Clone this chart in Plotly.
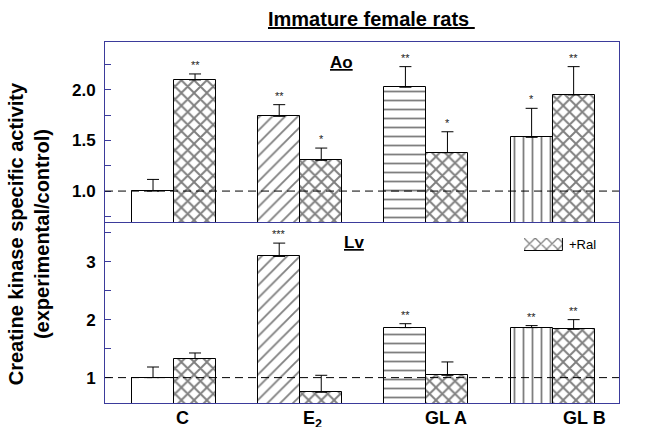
import plotly.graph_objects as go

groups = ["C", "E<sub>2</sub>", "GL A", "GL B"]
ctrl_patterns = ["", "/", "-", "|"]

ao_ctrl = [1.00, 1.737, 2.024, 1.530]
ao_ctrl_err = [0.115, 0.115, 0.203, 0.286]
ao_ral = [2.096, 1.303, 1.378, 1.948]
ao_ral_err = [0.059, 0.121, 0.207, 0.279]
ao_ctrl_sig = ["", "**", "**", "*"]
ao_ral_sig = ["**", "*", "*", "**"]

lv_ctrl = [1.00, 3.09, 1.862, 1.862]
lv_ctrl_err = [0.183, 0.23, 0.068, 0.035]
lv_ral = [1.328, 0.747, 1.04, 1.833]
lv_ral_err = [0.097, 0.293, 0.23, 0.167]
lv_ctrl_sig = ["", "***", "**", "**"]
lv_ral_sig = ["", "", "", "**"]

top_ticks = [1.0, 1.5, 2.0]
bot_ticks = [1, 2, 3]

FONT = "Liberation Sans"
FRAME = "#3b3b9b"
W = 0.333
off = W / 2
xc = list(range(len(groups)))
label_pos = [0.07, 1.10, 2.155, 3.25]

fig = go.Figure()


def add_panel(ctrl, ctrl_err, ral, ral_err, xa, ya):
    fig.add_trace(go.Bar(
        x=[i - off for i in xc], y=ctrl, width=W, xaxis=xa, yaxis=ya,
        marker=dict(color="white", line=dict(color="black", width=1),
                    pattern=dict(shape=ctrl_patterns, fgcolor="black", bgcolor="white",
                                 size=9, solidity=0.2)),
        error_y=dict(type="data", symmetric=False, array=ctrl_err, arrayminus=[0] * 4,
                     color="black", thickness=1, width=6),
        showlegend=False))
    fig.add_trace(go.Bar(
        x=[i + off for i in xc], y=ral, width=W, xaxis=xa, yaxis=ya,
        marker=dict(color="white", line=dict(color="black", width=1),
                    pattern=dict(shape="x", fgcolor="black", bgcolor="white",
                                 size=9, solidity=0.38)),
        error_y=dict(type="data", symmetric=False, array=ral_err, arrayminus=[0] * 4,
                     color="black", thickness=1, width=6),
        showlegend=False))


add_panel(ao_ctrl, ao_ctrl_err, ao_ral, ao_ral_err, "x2", "y2")
add_panel(lv_ctrl, lv_ctrl_err, lv_ral, lv_ral_err, "x", "y")

# legend swatch on a tiny axis
fig.add_trace(go.Bar(
    x=[0], y=[1], width=[1], xaxis="x3", yaxis="y3",
    marker=dict(color="white", line=dict(color="black", width=1),
                pattern=dict(shape="x", fgcolor="black", bgcolor="white", size=8, solidity=0.3)),
    showlegend=False, hoverinfo="skip"))

annotations = []


def add_sig(vals, errs, sig, dx, xref, yref):
    for i, s in enumerate(sig):
        if s:
            annotations.append(dict(x=i + dx, y=vals[i] + errs[i], xref=xref, yref=yref,
                                    text=s, showarrow=False, yanchor="bottom", yshift=1,
                                    font=dict(family=FONT, size=11, color="#222222")))


add_sig(ao_ctrl, ao_ctrl_err, ao_ctrl_sig, -off, "x2", "y2")
add_sig(ao_ral, ao_ral_err, ao_ral_sig, off, "x2", "y2")
add_sig(lv_ctrl, lv_ctrl_err, lv_ctrl_sig, -off, "x", "y")
add_sig(lv_ral, lv_ral_err, lv_ral_sig, off, "x", "y")

for i, g in enumerate(groups):
    annotations.append(dict(x=label_pos[i], y=0, xref="x", yref="paper", text="<b>%s</b>" % g,
                            showarrow=False, yanchor="top", yshift=-3,
                            font=dict(family=FONT, size=18, color="black")))

annotations += [
    dict(x=0.519, y=1, xref="paper", yref="paper", yshift=10, yanchor="bottom",
         text="<b><u>Immature female rats </u></b>", showarrow=False,
         font=dict(family=FONT, size=20, color="black")),
    dict(x=0.46, y=0.975, xref="paper", yref="paper", yanchor="top",
         text="<b><u>Ao</u></b>", showarrow=False, font=dict(family=FONT, size=17, color="black")),
    dict(x=0.485, y=0.476, xref="paper", yref="paper", yanchor="top",
         text="<b><u>Lv</u></b>", showarrow=False, font=dict(family=FONT, size=17, color="black")),
    dict(x=0.898, y=0.4377, xref="paper", yref="paper", xanchor="left", yanchor="middle",
         text="+Ral", showarrow=False, font=dict(family=FONT, size=13, color="black")),
    dict(x=-0.148, y=0.47, xref="paper", yref="paper", textangle=-90,
         xanchor="center", yanchor="middle",
         text="<b>Creatine kinase specific activity<br>(experimental/control)</b>",
         showarrow=False, font=dict(family=FONT, size=20, color="black")),
]

shapes = [
    dict(type="line", xref="x2 domain", yref="y2", x0=0, x1=1, y0=1, y1=1,
         line=dict(color="black", width=1, dash="8px,5px")),
    dict(type="line", xref="x domain", yref="y", x0=0, x1=1, y0=1, y1=1,
         line=dict(color="black", width=1, dash="8px,5px")),
]

split = 181 / 361
axis_common = dict(showline=True, linecolor=FRAME, linewidth=1,
                   showgrid=False, zeroline=False)

fig.update_layout(
    width=659, height=427,
    margin=dict(l=105, r=40, t=42, b=24),
    paper_bgcolor="white", plot_bgcolor="white",
    barmode="overlay", bargap=0,
    showlegend=False,
    xaxis=dict(range=[-0.547, 3.526], domain=[0, 1], anchor="y", showticklabels=False,
               ticks="", mirror=False, **axis_common),
    xaxis2=dict(range=[-0.547, 3.526], domain=[0, 1], anchor="y2", showticklabels=False,
                ticks="", mirror=True, **axis_common),
    yaxis=dict(range=[0.562, 3.684], domain=[0, split], anchor="x", tickvals=bot_ticks,
               ticktext=[str(v) for v in bot_ticks], ticks="inside", ticklen=6,
               tickcolor=FRAME, ticklabelstandoff=5, mirror=True,
               minor=dict(ticks="inside", ticklen=6, tickcolor=FRAME, dtick=0.5, tick0=0),
               tickfont=dict(family=FONT, size=17, color="black", weight="bold"),
               **axis_common),
    yaxis2=dict(range=[0.695, 2.47], domain=[split, 1], anchor="x2", tickvals=top_ticks,
                ticktext=["%.1f" % v for v in top_ticks], ticks="inside", ticklen=6,
                tickcolor=FRAME, ticklabelstandoff=5, mirror=True,
                minor=dict(ticks="inside", ticklen=6, tickcolor=FRAME, dtick=0.25, tick0=0),
                tickfont=dict(family=FONT, size=17, color="black", weight="bold"),
                **axis_common),
    xaxis3=dict(domain=[0.815, 0.891], range=[-0.5, 0.5], anchor="y3", visible=False,
                fixedrange=True),
    yaxis3=dict(domain=[0.421, 0.457], range=[0, 1], anchor="x3", visible=False,
                fixedrange=True),
    annotations=annotations,
    shapes=shapes,
)

fig.write_html("out.html", config={"displayModeBar": False},
               post_script="document.body.style.margin='0px';")
